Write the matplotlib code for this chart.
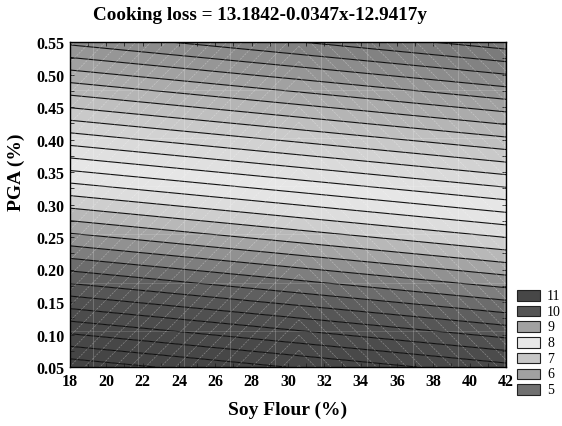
import numpy as np
import matplotlib
matplotlib.use("Agg")
import matplotlib.pyplot as plt
from matplotlib.colors import ListedColormap, BoundaryNorm
from matplotlib.patches import Rectangle

# ---- data ----
intercept = 13.1842
coef_x = -0.0347
coef_y = -12.9417
x_range = [18, 42]
y_range = [0.05, 0.55]
x_ticks = [18, 20, 22, 24, 26, 28, 30, 32, 34, 36, 38, 40, 42]
y_ticks = [0.05, 0.10, 0.15, 0.20, 0.25, 0.30, 0.35, 0.40, 0.45, 0.50, 0.55]
legend_levels = [11, 10, 9, 8, 7, 6, 5]
legend_grays = [0.28, 0.33, 0.63, 0.91, 0.78, 0.63, 0.44]
# gray shade anchors for the filled surface
shade_z = [4.0, 5.0, 6.0, 7.0, 7.5, 8.0, 8.5, 9.0, 9.5, 10.0, 10.5, 11.0, 12.0]
shade_g = [0.44, 0.49, 0.65, 0.81, 0.87, 0.91, 0.85, 0.68, 0.53, 0.39, 0.32, 0.29, 0.26]
line_step = 0.25

plt.rcParams['font.family'] = ['Liberation Serif', 'DejaVu Serif']

W, H = 562, 427
fig = plt.figure(figsize=(W / 100, H / 100), dpi=100)
L, R, T, B = 70, 506, 43, 368
ax = fig.add_axes([L / W, 1 - B / H, (R - L) / W, (B - T) / H])

xg = np.linspace(x_range[0], x_range[1], 300)
yg = np.linspace(y_range[0], y_range[1], 300)
X, Y = np.meshgrid(xg, yg)
Z = intercept + coef_x * X + coef_y * Y

levels = np.arange(4.0, 12.5 + 1e-9, line_step)
mids = (levels[:-1] + levels[1:]) / 2
grays = np.interp(mids, shade_z, shade_g)
cmap = ListedColormap([(g, g, g) for g in grays])
norm = BoundaryNorm(levels, cmap.N)
ax.contourf(X, Y, Z, levels=levels, cmap=cmap, norm=norm, antialiased=True)
ax.contour(X, Y, Z, levels=levels, colors='#111111', linewidths=0.8)

# faint surface mesh (decorative)
px_x = (R - L) / (x_range[1] - x_range[0])
px_y = (B - T) / (y_range[1] - y_range[0])
apex = 30.6
for xv in np.arange(19.25, 42, 2.515):
    ax.axvline(xv, color='white', lw=0.5, alpha=0.28)
for yv in np.arange(0.55, 0.04, -0.074):
    ax.axhline(yv, color='white', lw=0.5, alpha=0.2)
s = px_x / px_y
dy = 15.2 / px_y
xl = np.array([x_range[0], apex])
xr = np.array([apex, x_range[1]])
for c in np.arange(-1.0, 1.0, dy):
    ax.plot(xl, c + s * (xl - apex), color='white', lw=0.5, alpha=0.33,
            ls=(0, (3, 1.5)))
    ax.plot(xr, c + s * (apex - xr), color='white', lw=0.5, alpha=0.33,
            ls=(0, (3, 1.5)))

ax.set_xlim(x_range)
ax.set_ylim(y_range)
ax.set_xticks(x_ticks)
ax.set_yticks(y_ticks)
ax.set_xticklabels([str(v) for v in x_ticks])
ax.set_yticklabels([f"{v:.2f}" for v in y_ticks])
ax.set_xticks(np.arange(18, 42.01, 1), minor=True)
ax.set_yticks(np.arange(0.05, 0.5501, 0.025), minor=True)
ax.tick_params(which='both', direction='in', top=True, right=True,
               length=3, width=0.6, color='#222222')
ax.tick_params(which='major', labelsize=11.5, pad=4)
for lab in ax.get_xticklabels() + ax.get_yticklabels():
    lab.set_fontweight('bold')
for sp in ax.spines.values():
    sp.set_linewidth(1.0)

fig.text(260 / W, 1 - 15 / H, "Cooking loss = 13.1842-0.0347x-12.9417y",
         ha='center', va='center', fontsize=13.8, fontweight='bold')
fig.text(288 / W, 1 - 410 / H, "Soy Flour (%)", ha='center', va='center',
         fontsize=14, fontweight='bold')
fig.text(16 / W, 1 - 172 / H, "PGA (%)", ha='center', va='center',
         rotation=90, fontsize=14, fontweight='bold')

# legend
lax = fig.add_axes([0, 0, 1, 1], facecolor='none')
lax.set_xlim(0, W)
lax.set_ylim(H, 0)
lax.axis('off')
for i, (lv, g) in enumerate(zip(legend_levels, legend_grays)):
    top = 291 + i * 15.7
    lax.add_patch(Rectangle((517, top), 23, 10.5, facecolor=(g, g, g),
                            edgecolor='#222222', lw=0.8))
    lax.text(547, top + 5.5, str(lv), ha='left', va='center', fontsize=10)

fig.savefig("out.png", dpi=100)
